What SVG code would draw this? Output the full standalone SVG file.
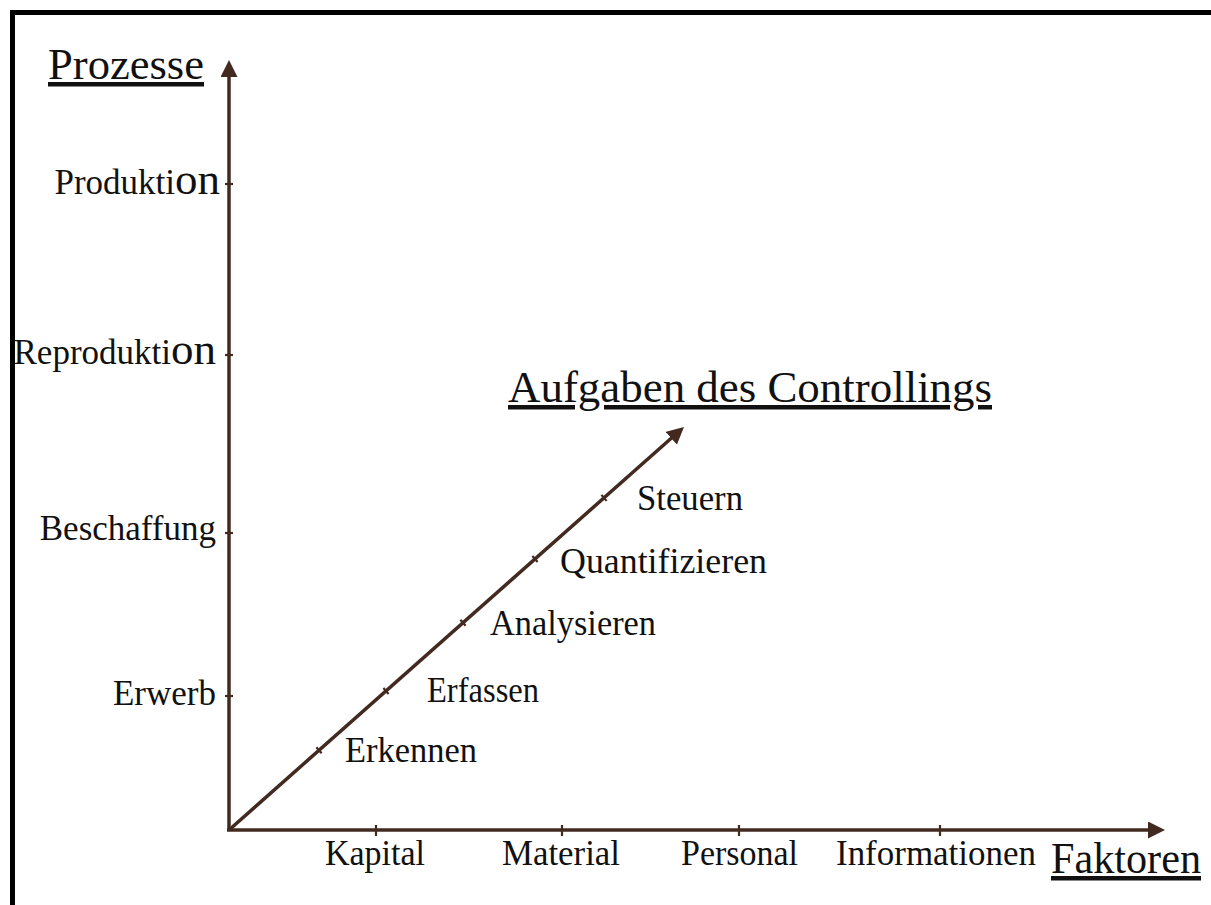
<svg xmlns="http://www.w3.org/2000/svg" width="1211" height="905" viewBox="0 0 1211 905">
  <style>
    .lbl { font-family: "Liberation Serif", "Times New Roman", serif; font-size: 35px; fill: #111; }
    .title { font-family: "Liberation Serif", "Times New Roman", serif; font-size: 45px; fill: #111; text-decoration: underline; }
    .axis { stroke: #432a20; stroke-width: 3.5; fill: none; }
    .tick { stroke: #432a20; stroke-width: 2.2; fill: none; }
  </style>
  <defs>
    <marker id="arrow" markerUnits="userSpaceOnUse" markerWidth="18" markerHeight="18" refX="9" refY="8.5" orient="auto">
      <path d="M0,0 L17,8.5 L0,17 Z" fill="#432a20"/>
    </marker>
  </defs>

  <rect width="1211" height="905" fill="#fff"/>

  <!-- frame -->
  <path d="M12.5,905 L12.5,12.5 L1211,12.5" stroke="#000" stroke-width="5" fill="none" stroke-linejoin="miter"/>

  <!-- axes and ticks -->
  <g id="connectors">
    <line class="axis" x1="229" y1="830" x2="229" y2="68" marker-end="url(#arrow)"/>
    <line class="axis" x1="227" y1="830" x2="1157" y2="830" marker-end="url(#arrow)"/>
    <line class="axis" x1="229" y1="830" x2="678" y2="432.3" marker-end="url(#arrow)"/>

    <!-- vertical axis ticks -->
    <line class="tick" x1="225" y1="184" x2="233" y2="184"/>
    <line class="tick" x1="225" y1="355" x2="233" y2="355"/>
    <line class="tick" x1="225" y1="533" x2="233" y2="533"/>
    <line class="tick" x1="225" y1="696" x2="233" y2="696"/>

    <!-- horizontal axis ticks -->
    <line class="tick" x1="376" y1="825" x2="376" y2="836"/>
    <line class="tick" x1="562" y1="825" x2="562" y2="836"/>
    <line class="tick" x1="739" y1="825" x2="739" y2="836"/>
    <line class="tick" x1="940" y1="825" x2="940" y2="836"/>

    <!-- diagonal axis ticks -->
    <line class="tick" x1="316.4" y1="747.3" x2="321.6" y2="753.3"/>
    <line class="tick" x1="383.4" y1="688" x2="388.6" y2="694"/>
    <line class="tick" x1="460.4" y1="619.7" x2="465.6" y2="625.7"/>
    <line class="tick" x1="532.4" y1="556" x2="537.6" y2="562"/>
    <line class="tick" x1="601.4" y1="494.9" x2="606.6" y2="500.9"/>
  </g>

  <!-- axis titles -->
  <g id="title-prozesse"><text class="title" x="48" y="79" textLength="156" lengthAdjust="spacingAndGlyphs">Prozesse</text></g>
  <g id="title-faktoren"><text class="title" x="1051" y="873" textLength="150" lengthAdjust="spacingAndGlyphs">Faktoren</text></g>
  <g id="title-aufgaben"><text class="title" x="508" y="402" textLength="484" lengthAdjust="spacingAndGlyphs">Aufgaben des Controllings</text></g>

  <!-- process labels -->
  <g id="y-produktion"><text class="lbl" x="220" y="194" text-anchor="end">Produkti<tspan font-size="45">on</tspan></text></g>
  <g id="y-reproduktion"><text class="lbl" x="216" y="364" text-anchor="end">Reprodukti<tspan font-size="45">on</tspan></text></g>
  <g id="y-beschaffung"><text class="lbl" x="216" y="540" text-anchor="end">Beschaffung</text></g>
  <g id="y-erwerb"><text class="lbl" x="216" y="705" text-anchor="end">Erwerb</text></g>

  <!-- factor labels -->
  <g id="x-kapital"><text class="lbl" x="325" y="865" textLength="100" lengthAdjust="spacingAndGlyphs">Kapital</text></g>
  <g id="x-material"><text class="lbl" x="502" y="865" textLength="118" lengthAdjust="spacingAndGlyphs">Material</text></g>
  <g id="x-personal"><text class="lbl" x="681" y="865" textLength="117" lengthAdjust="spacingAndGlyphs">Personal</text></g>
  <g id="x-informationen"><text class="lbl" x="836" y="865" textLength="200" lengthAdjust="spacingAndGlyphs">Informationen</text></g>

  <!-- controlling task labels -->
  <g id="d-steuern"><text class="lbl" x="637" y="510" textLength="106" lengthAdjust="spacingAndGlyphs">Steuern</text></g>
  <g id="d-quantifizieren"><text class="lbl" x="560" y="573" textLength="207" lengthAdjust="spacingAndGlyphs">Quantifizieren</text></g>
  <g id="d-analysieren"><text class="lbl" x="490" y="635" textLength="166" lengthAdjust="spacingAndGlyphs">Analysieren</text></g>
  <g id="d-erfassen"><text class="lbl" x="427" y="702" textLength="112" lengthAdjust="spacingAndGlyphs">Erfassen</text></g>
  <g id="d-erkennen"><text class="lbl" x="345" y="762" textLength="132" lengthAdjust="spacingAndGlyphs">Erkennen</text></g>
</svg>
